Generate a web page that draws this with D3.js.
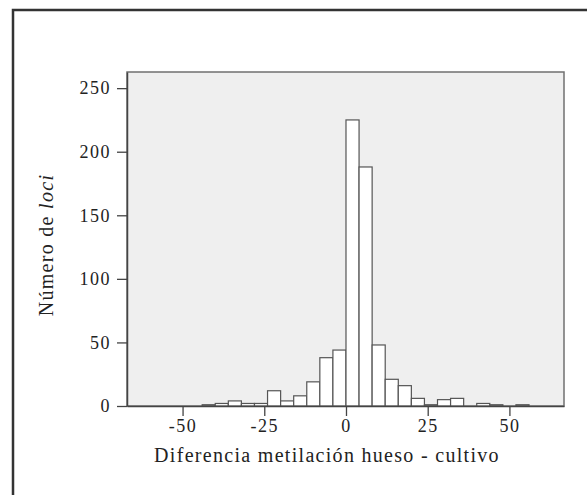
<!DOCTYPE html>
<html lang="es">
<head>
<meta charset="utf-8">
<style>
  body { margin: 0; background: #fff; }
  svg text { font-family: "Liberation Serif", "DejaVu Serif", serif; fill: #222; }
  .tick text { font-size: 18px; letter-spacing: 1.5px; }
  .bars rect { fill: #fff; stroke: #555; stroke-width: 1.2px; }
</style>
<script src="https://cdn.jsdelivr.net/npm/d3@7"></script>
</head>
<body>
<svg width="587" height="495"></svg>
<script>
// bins of 4 units, left edges
var binStart = [-44,-40,-36,-32,-28,-24,-20,-16,-12,-8,-4,0,4,8,12,16,20,24,28,32,36,40,44,48,52];
var counts   = [1,2,4,2,2,12,4,8,19,38,44,225,188,48,21,16,6,1,5,6,0,2,1,0,1];
var binWidth = 4;
var xTicks = [-50, -25, 0, 25, 50];
var yTicks = [0, 50, 100, 150, 200, 250];

var svg = d3.select("svg");

// outer frame, open to the right and bottom
svg.append("rect")
    .attr("x", 13).attr("y", 10)
    .attr("width", 620).attr("height", 520)
    .attr("fill", "none")
    .attr("stroke", "#333")
    .attr("stroke-width", 2.5);

var plotL = 127, plotR = 564, plotT = 72, plotB = 406;

var x = d3.scaleLinear().domain([-67, 66.7]).range([plotL, plotR]);
var y = d3.scaleLinear().domain([0, 262.7]).range([plotB, plotT]);

// plot background
svg.append("rect")
    .attr("x", plotL).attr("y", plotT)
    .attr("width", plotR - plotL).attr("height", plotB - plotT)
    .attr("fill", "#efefef")
    .attr("stroke", "#707070")
    .attr("stroke-width", 1.5);

var data = binStart.map(function(s, i) { return { x0: s, x1: s + binWidth, n: counts[i] }; });

svg.append("g")
    .attr("class", "bars")
  .selectAll("rect")
  .data(data.filter(function(d) { return d.n > 0; }))
  .enter().append("rect")
    .attr("x", function(d) { return x(d.x0); })
    .attr("width", function(d) { return x(d.x1) - x(d.x0); })
    .attr("y", function(d) { return y(d.n); })
    .attr("height", function(d) { return y(0) - y(d.n); });

var xAxis = svg.append("g")
    .attr("transform", "translate(0," + plotB + ")")
    .call(d3.axisBottom(x).tickValues(xTicks).tickSize(10).tickSizeOuter(0).tickPadding(3)
        .tickFormat(function(d) { return d; }));
xAxis.select(".domain").attr("stroke", "#444").attr("stroke-width", 1.5);

var yAxis = svg.append("g")
    .attr("transform", "translate(" + plotL + ",0)")
    .call(d3.axisLeft(y).tickValues(yTicks).tickSize(10).tickSizeOuter(0).tickPadding(6));
yAxis.select(".domain").attr("stroke", "#444").attr("stroke-width", 1.5);

svg.selectAll(".tick line").attr("stroke", "#444").attr("stroke-width", 1.3);

svg.append("text")
    .attr("x", 327)
    .attr("y", 462)
    .attr("text-anchor", "middle")
    .style("font-size", "20px")
    .style("letter-spacing", "1.3px")
    .text("Diferencia metilación hueso - cultivo");

var yl = svg.append("text")
    .attr("transform", "translate(53,245) rotate(-90)")
    .attr("text-anchor", "middle")
    .style("font-size", "20px")
    .style("letter-spacing", "1.3px");
yl.append("tspan").text("Número de ");
yl.append("tspan").style("font-style", "italic").text("loci");
</script>
</body>
</html>
